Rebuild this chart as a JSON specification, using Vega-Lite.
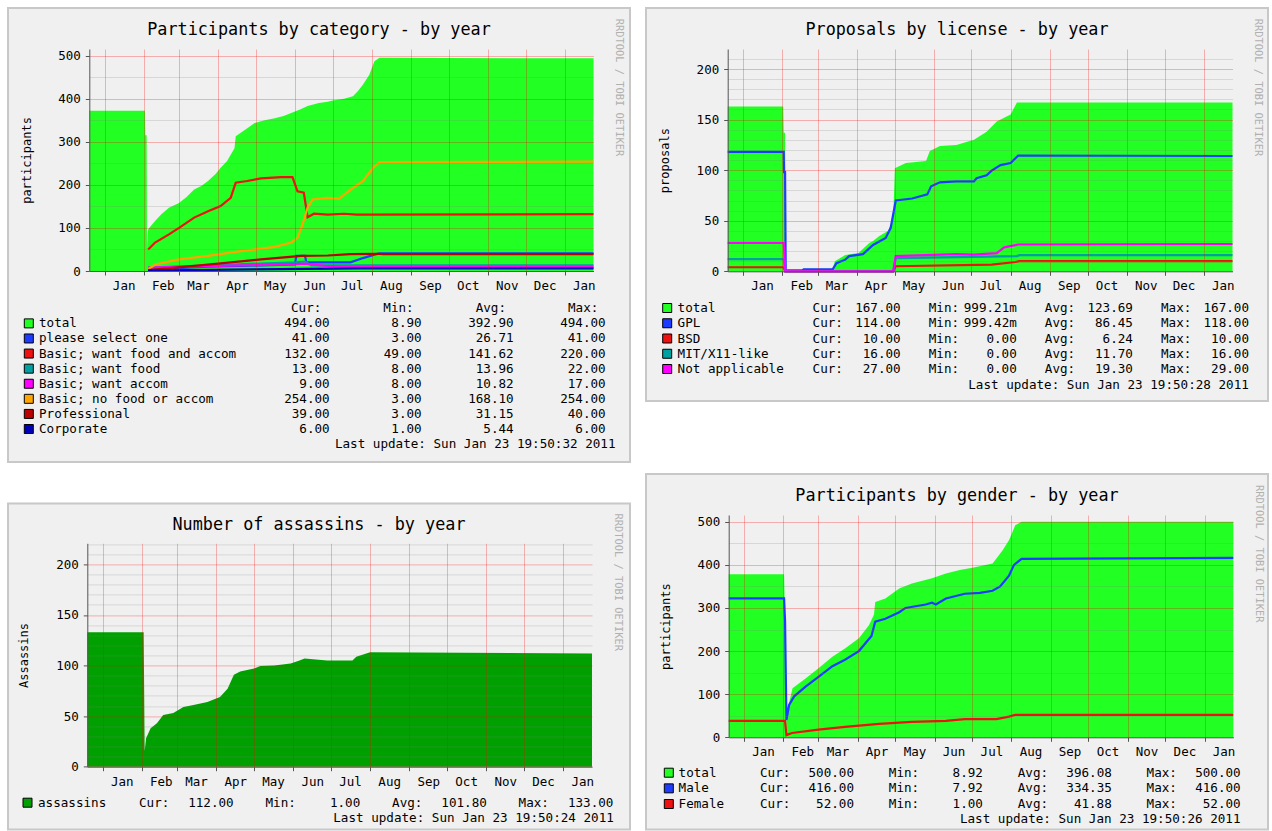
{
"$schema":"https://vega.github.io/schema/vega-lite/v6.json",
"background":"#ffffff",
"padding":{"left":7,"top":7,"right":3,"bottom":0},
"config":{
 "view":{"stroke":null},
 "axis":{"labelFont":"DejaVu Sans Mono","titleFont":"DejaVu Sans Mono","labelFontSize":12.5,"titleFontSize":12,"labelColor":"#000000","titleColor":"#000000","titleFontWeight":"normal","domainColor":"#555555","tickColor":"#555555"},
 "title":{"font":"DejaVu Sans Mono","fontSize":16.8,"fontWeight":"normal","color":"#000000","anchor":"middle"},
 "text":{"font":"DejaVu Sans Mono"}
},
"datasets":{
"p1":[
{"t":"2009-12-19T19:50:00Z","s":"total","v":372},{"t":"2010-02-02T00:00:00Z","s":"total","v":372},{"t":"2010-02-02T07:00:00Z","s":"total","v":315},{"t":"2010-02-03T07:00:00Z","s":"total","v":315},{"t":"2010-02-03T14:00:00Z","s":"total","v":46},{"t":"2010-02-04T12:00:00Z","s":"total","v":97},{"t":"2010-02-10","s":"total","v":116},{"t":"2010-02-15","s":"total","v":132},{"t":"2010-02-21","s":"total","v":147},{"t":"2010-03-01","s":"total","v":158},{"t":"2010-03-07","s":"total","v":172},{"t":"2010-03-13","s":"total","v":189},{"t":"2010-03-19","s":"total","v":198},{"t":"2010-03-24","s":"total","v":209},{"t":"2010-03-30","s":"total","v":225},{"t":"2010-04-03","s":"total","v":240},{"t":"2010-04-08","s":"total","v":255},{"t":"2010-04-11","s":"total","v":270},{"t":"2010-04-14","s":"total","v":285},{"t":"2010-04-15","s":"total","v":313},{"t":"2010-04-19","s":"total","v":321},{"t":"2010-04-25","s":"total","v":333},{"t":"2010-04-30","s":"total","v":344},{"t":"2010-05-08","s":"total","v":350},{"t":"2010-05-16","s":"total","v":355},{"t":"2010-05-23","s":"total","v":360},{"t":"2010-05-29","s":"total","v":367},{"t":"2010-06-05","s":"total","v":375},{"t":"2010-06-11","s":"total","v":383},{"t":"2010-06-20","s":"total","v":390},{"t":"2010-06-27","s":"total","v":393},{"t":"2010-07-01","s":"total","v":396},{"t":"2010-07-10","s":"total","v":400},{"t":"2010-07-17","s":"total","v":406},{"t":"2010-07-21","s":"total","v":418},{"t":"2010-07-25","s":"total","v":433},{"t":"2010-07-30","s":"total","v":456},{"t":"2010-08-03","s":"total","v":487},{"t":"2010-08-07","s":"total","v":495},{"t":"2011-01-23T19:50:00Z","s":"total","v":494},
{"t":"2010-02-04T12:00:00Z","s":"sel","v":3},{"t":"2010-03-24","s":"sel","v":10},{"t":"2010-05-05","s":"sel","v":13},{"t":"2010-06-01","s":"sel","v":15},{"t":"2010-06-02","s":"sel","v":35},{"t":"2010-06-09","s":"sel","v":35},{"t":"2010-06-10","s":"sel","v":20},{"t":"2010-07-15","s":"sel","v":20},{"t":"2010-07-25","s":"sel","v":30},{"t":"2010-08-03","s":"sel","v":38},{"t":"2010-08-07","s":"sel","v":41},{"t":"2011-01-23T19:50:00Z","s":"sel","v":41},
{"t":"2010-02-04T12:00:00Z","s":"fa","v":50},{"t":"2010-02-10","s":"fa","v":66},{"t":"2010-02-21","s":"fa","v":85},{"t":"2010-03-01","s":"fa","v":100},{"t":"2010-03-13","s":"fa","v":124},{"t":"2010-03-24","s":"fa","v":139},{"t":"2010-04-03","s":"fa","v":151},{"t":"2010-04-11","s":"fa","v":170},{"t":"2010-04-15","s":"fa","v":205},{"t":"2010-04-24","s":"fa","v":209},{"t":"2010-05-05","s":"fa","v":215},{"t":"2010-05-21","s":"fa","v":218},{"t":"2010-05-30","s":"fa","v":218},{"t":"2010-06-03","s":"fa","v":185},{"t":"2010-06-08","s":"fa","v":182},{"t":"2010-06-11","s":"fa","v":125},{"t":"2010-06-16","s":"fa","v":133},{"t":"2010-06-27","s":"fa","v":131},{"t":"2010-07-10","s":"fa","v":133},{"t":"2010-07-20","s":"fa","v":131},{"t":"2011-01-23T19:50:00Z","s":"fa","v":132},
{"t":"2010-02-04T12:00:00Z","s":"f","v":8},{"t":"2010-04-11","s":"f","v":15},{"t":"2010-06-01","s":"f","v":20},{"t":"2010-06-09","s":"f","v":22},{"t":"2010-06-14","s":"f","v":13},{"t":"2011-01-23T19:50:00Z","s":"f","v":13},
{"t":"2010-02-04T12:00:00Z","s":"a","v":8},{"t":"2010-04-01","s":"a","v":12},{"t":"2010-06-01","s":"a","v":16},{"t":"2010-06-09","s":"a","v":17},{"t":"2010-06-25","s":"a","v":12},{"t":"2010-07-15","s":"a","v":9},{"t":"2011-01-23T19:50:00Z","s":"a","v":9},
{"t":"2010-02-04T12:00:00Z","s":"no","v":4},{"t":"2010-02-10","s":"no","v":15},{"t":"2010-03-01","s":"no","v":27},{"t":"2010-03-24","s":"no","v":35},{"t":"2010-04-19","s":"no","v":46},{"t":"2010-05-16","s":"no","v":56},{"t":"2010-05-29","s":"no","v":66},{"t":"2010-06-03","s":"no","v":77},{"t":"2010-06-07","s":"no","v":108},{"t":"2010-06-11","s":"no","v":147},{"t":"2010-06-15","s":"no","v":166},{"t":"2010-06-27","s":"no","v":170},{"t":"2010-07-06","s":"no","v":168},{"t":"2010-07-17","s":"no","v":193},{"t":"2010-07-25","s":"no","v":209},{"t":"2010-08-02","s":"no","v":240},{"t":"2010-08-07","s":"no","v":253},{"t":"2011-01-23T19:50:00Z","s":"no","v":254},
{"t":"2010-02-04T12:00:00Z","s":"pro","v":2},{"t":"2010-03-24","s":"pro","v":15},{"t":"2010-05-05","s":"pro","v":27},{"t":"2010-06-06","s":"pro","v":35},{"t":"2010-06-27","s":"pro","v":36},{"t":"2010-07-15","s":"pro","v":39},{"t":"2010-08-05","s":"pro","v":40},{"t":"2010-08-10","s":"pro","v":39},{"t":"2011-01-23T19:50:00Z","s":"pro","v":39},
{"t":"2010-02-04T12:00:00Z","s":"corp","v":1},{"t":"2010-04-11","s":"corp","v":3},{"t":"2010-05-01","s":"corp","v":4},{"t":"2010-07-20","s":"corp","v":6},{"t":"2011-01-23T19:50:00Z","s":"corp","v":6}
],
"p2":[
{"t":"2009-12-19T19:50:00Z","s":"total","v":163},{"t":"2010-02-01T20:00:00Z","s":"total","v":163},{"t":"2010-02-02T05:00:00Z","s":"total","v":137},{"t":"2010-02-03T07:00:00Z","s":"total","v":137},{"t":"2010-02-03T19:00:00Z","s":"total","v":1},{"t":"2010-02-17","s":"total","v":1},{"t":"2010-02-18","s":"total","v":2.5},{"t":"2010-03-13","s":"total","v":2.5},{"t":"2010-03-14T17:00:00Z","s":"total","v":10},{"t":"2010-03-23","s":"total","v":16},{"t":"2010-04-02T12:00:00Z","s":"total","v":18},{"t":"2010-04-11","s":"total","v":28},{"t":"2010-04-14","s":"total","v":30},{"t":"2010-04-19","s":"total","v":35},{"t":"2010-04-26","s":"total","v":40},{"t":"2010-04-30","s":"total","v":53},{"t":"2010-05-01T07:00:00Z","s":"total","v":102},{"t":"2010-05-10","s":"total","v":107},{"t":"2010-05-26","s":"total","v":109},{"t":"2010-05-29","s":"total","v":119},{"t":"2010-06-06","s":"total","v":124},{"t":"2010-06-19","s":"total","v":125},{"t":"2010-07-03","s":"total","v":130},{"t":"2010-07-13","s":"total","v":138},{"t":"2010-07-21","s":"total","v":148},{"t":"2010-08-01","s":"total","v":155},{"t":"2010-08-06","s":"total","v":167},{"t":"2011-01-23T19:50:00Z","s":"total","v":167},
{"t":"2009-12-19T19:50:00Z","s":"GPL","v":118},{"t":"2010-02-02T05:00:00Z","s":"GPL","v":118},{"t":"2010-02-02T12:00:00Z","s":"GPL","v":98},{"t":"2010-02-03T07:00:00Z","s":"GPL","v":98},{"t":"2010-02-03T19:00:00Z","s":"GPL","v":1},{"t":"2010-02-17","s":"GPL","v":1},{"t":"2010-02-18","s":"GPL","v":2},{"t":"2010-03-13","s":"GPL","v":2},{"t":"2010-03-16","s":"GPL","v":8},{"t":"2010-03-23","s":"GPL","v":11.5},{"t":"2010-03-26","s":"GPL","v":15},{"t":"2010-04-06","s":"GPL","v":17},{"t":"2010-04-14","s":"GPL","v":26},{"t":"2010-04-24","s":"GPL","v":33},{"t":"2010-04-28","s":"GPL","v":43},{"t":"2010-05-02","s":"GPL","v":70},{"t":"2010-05-15","s":"GPL","v":72},{"t":"2010-05-27","s":"GPL","v":76},{"t":"2010-05-30","s":"GPL","v":84},{"t":"2010-06-06","s":"GPL","v":88},{"t":"2010-06-19","s":"GPL","v":89},{"t":"2010-07-03","s":"GPL","v":89},{"t":"2010-07-05","s":"GPL","v":92},{"t":"2010-07-13","s":"GPL","v":95},{"t":"2010-07-17","s":"GPL","v":99.5},{"t":"2010-07-24","s":"GPL","v":105},{"t":"2010-08-01","s":"GPL","v":107},{"t":"2010-08-07","s":"GPL","v":114.5},{"t":"2011-01-23T19:50:00Z","s":"GPL","v":114},
{"t":"2009-12-19T19:50:00Z","s":"BSD","v":4},{"t":"2010-02-02T05:00:00Z","s":"BSD","v":4},{"t":"2010-02-03T12:00:00Z","s":"BSD","v":0},{"t":"2010-04-30","s":"BSD","v":0},{"t":"2010-05-02","s":"BSD","v":5},{"t":"2010-07-17","s":"BSD","v":6.6},{"t":"2010-08-05","s":"BSD","v":9.2},{"t":"2010-08-08","s":"BSD","v":10},{"t":"2011-01-23T19:50:00Z","s":"BSD","v":10},
{"t":"2009-12-19T19:50:00Z","s":"MIT","v":12},{"t":"2010-02-02T05:00:00Z","s":"MIT","v":12},{"t":"2010-02-03T12:00:00Z","s":"MIT","v":0},{"t":"2010-04-30","s":"MIT","v":0},{"t":"2010-05-02","s":"MIT","v":13},{"t":"2010-08-06","s":"MIT","v":15},{"t":"2010-08-08","s":"MIT","v":16},{"t":"2011-01-23T19:50:00Z","s":"MIT","v":16},
{"t":"2009-12-19T19:50:00Z","s":"NA","v":28},{"t":"2010-02-02T05:00:00Z","s":"NA","v":28},{"t":"2010-02-03T12:00:00Z","s":"NA","v":0},{"t":"2010-04-30","s":"NA","v":0},{"t":"2010-05-02","s":"NA","v":15},{"t":"2010-06-19","s":"NA","v":17},{"t":"2010-07-03","s":"NA","v":16.5},{"t":"2010-07-21","s":"NA","v":18},{"t":"2010-07-27","s":"NA","v":23.7},{"t":"2010-08-07","s":"NA","v":26.5},{"t":"2011-01-23T19:50:00Z","s":"NA","v":27}
],
"p3":[
{"t":"2009-12-19T19:50:00Z","s":"ass","v":133},{"t":"2010-02-02T12:00:00Z","s":"ass","v":133},{"t":"2010-02-03T07:00:00Z","s":"ass","v":15.5},{"t":"2010-02-04T10:00:00Z","s":"ass","v":28},{"t":"2010-02-08","s":"ass","v":38},{"t":"2010-02-13","s":"ass","v":43},{"t":"2010-02-18","s":"ass","v":51},{"t":"2010-02-26","s":"ass","v":53},{"t":"2010-03-06","s":"ass","v":59},{"t":"2010-03-14","s":"ass","v":61},{"t":"2010-03-25","s":"ass","v":64},{"t":"2010-04-04","s":"ass","v":69},{"t":"2010-04-10","s":"ass","v":77},{"t":"2010-04-15","s":"ass","v":91},{"t":"2010-04-20","s":"ass","v":94},{"t":"2010-05-01","s":"ass","v":97},{"t":"2010-05-06","s":"ass","v":99.5},{"t":"2010-05-17","s":"ass","v":100},{"t":"2010-05-30","s":"ass","v":102},{"t":"2010-06-06","s":"ass","v":105},{"t":"2010-06-10","s":"ass","v":107},{"t":"2010-06-28","s":"ass","v":105},{"t":"2010-07-18","s":"ass","v":105},{"t":"2010-07-21","s":"ass","v":108.7},{"t":"2010-08-01","s":"ass","v":113},{"t":"2011-01-23T19:50:00Z","s":"ass","v":112}
],
"p4":[
{"t":"2009-12-19T19:50:00Z","s":"total","v":378},{"t":"2010-02-01T17:00:00Z","s":"total","v":378},{"t":"2010-02-02T07:00:00Z","s":"total","v":300},{"t":"2010-02-03T05:00:00Z","s":"total","v":9},{"t":"2010-02-03T14:00:00Z","s":"total","v":60},{"t":"2010-02-05T17:00:00Z","s":"total","v":80},{"t":"2010-02-08T10:00:00Z","s":"total","v":114},{"t":"2010-02-19","s":"total","v":137},{"t":"2010-03-01","s":"total","v":160},{"t":"2010-03-12","s":"total","v":187},{"t":"2010-03-22","s":"total","v":206},{"t":"2010-04-02","s":"total","v":230},{"t":"2010-04-10","s":"total","v":260},{"t":"2010-04-14","s":"total","v":285},{"t":"2010-04-15","s":"total","v":314},{"t":"2010-04-23","s":"total","v":322},{"t":"2010-05-04","s":"total","v":345},{"t":"2010-05-14","s":"total","v":357},{"t":"2010-05-30","s":"total","v":369},{"t":"2010-06-10","s":"total","v":380},{"t":"2010-06-21","s":"total","v":388},{"t":"2010-07-01","s":"total","v":393},{"t":"2010-07-17","s":"total","v":403},{"t":"2010-07-25","s":"total","v":434},{"t":"2010-07-30","s":"total","v":457},{"t":"2010-08-04","s":"total","v":492},{"t":"2010-08-09","s":"total","v":500},{"t":"2011-01-23T19:50:00Z","s":"total","v":500},
{"t":"2009-12-19T19:50:00Z","s":"Male","v":322},{"t":"2010-02-01T17:00:00Z","s":"Male","v":322},{"t":"2010-02-02T12:00:00Z","s":"Male","v":270},{"t":"2010-02-03T14:00:00Z","s":"Male","v":40},{"t":"2010-02-05T17:00:00Z","s":"Male","v":75},{"t":"2010-02-09T17:00:00Z","s":"Male","v":95},{"t":"2010-02-19","s":"Male","v":118},{"t":"2010-03-01","s":"Male","v":140},{"t":"2010-03-12","s":"Male","v":165},{"t":"2010-03-22","s":"Male","v":180},{"t":"2010-04-02","s":"Male","v":200},{"t":"2010-04-12","s":"Male","v":235},{"t":"2010-04-15","s":"Male","v":268},{"t":"2010-04-23","s":"Male","v":275},{"t":"2010-05-04","s":"Male","v":290},{"t":"2010-05-09","s":"Male","v":300},{"t":"2010-05-25","s":"Male","v":308},{"t":"2010-05-30","s":"Male","v":312},{"t":"2010-06-02","s":"Male","v":308},{"t":"2010-06-10","s":"Male","v":322},{"t":"2010-06-25","s":"Male","v":333},{"t":"2010-07-07","s":"Male","v":335},{"t":"2010-07-17","s":"Male","v":340},{"t":"2010-07-23","s":"Male","v":350},{"t":"2010-07-30","s":"Male","v":375},{"t":"2010-08-03","s":"Male","v":400},{"t":"2010-08-09","s":"Male","v":414},{"t":"2011-01-23T19:50:00Z","s":"Male","v":416},
{"t":"2009-12-19T19:50:00Z","s":"Female","v":38},{"t":"2010-02-02T12:00:00Z","s":"Female","v":38},{"t":"2010-02-03T14:00:00Z","s":"Female","v":5},{"t":"2010-02-08","s":"Female","v":10},{"t":"2010-03-01","s":"Female","v":18},{"t":"2010-03-22","s":"Female","v":24},{"t":"2010-04-18","s":"Female","v":31},{"t":"2010-05-14","s":"Female","v":36},{"t":"2010-06-10","s":"Female","v":38},{"t":"2010-06-25","s":"Female","v":42},{"t":"2010-07-20","s":"Female","v":42},{"t":"2010-07-30","s":"Female","v":48},{"t":"2010-08-04","s":"Female","v":52},{"t":"2011-01-23T19:50:00Z","s":"Female","v":52}
],
"t1":[
{"r":"total","c":"label","txt":"total"},{"r":"total","c":"Cur:","txt":"494.00"},{"r":"total","c":"Min:","txt":"8.90"},{"r":"total","c":"Avg:","txt":"392.90"},{"r":"total","c":"Max:","txt":"494.00"},
{"r":"sel","c":"label","txt":"please select one"},{"r":"sel","c":"Cur:","txt":"41.00"},{"r":"sel","c":"Min:","txt":"3.00"},{"r":"sel","c":"Avg:","txt":"26.71"},{"r":"sel","c":"Max:","txt":"41.00"},
{"r":"fa","c":"label","txt":"Basic; want food and accom"},{"r":"fa","c":"Cur:","txt":"132.00"},{"r":"fa","c":"Min:","txt":"49.00"},{"r":"fa","c":"Avg:","txt":"141.62"},{"r":"fa","c":"Max:","txt":"220.00"},
{"r":"f","c":"label","txt":"Basic; want food"},{"r":"f","c":"Cur:","txt":"13.00"},{"r":"f","c":"Min:","txt":"8.00"},{"r":"f","c":"Avg:","txt":"13.96"},{"r":"f","c":"Max:","txt":"22.00"},
{"r":"a","c":"label","txt":"Basic; want accom"},{"r":"a","c":"Cur:","txt":"9.00"},{"r":"a","c":"Min:","txt":"8.00"},{"r":"a","c":"Avg:","txt":"10.82"},{"r":"a","c":"Max:","txt":"17.00"},
{"r":"no","c":"label","txt":"Basic; no food or accom"},{"r":"no","c":"Cur:","txt":"254.00"},{"r":"no","c":"Min:","txt":"3.00"},{"r":"no","c":"Avg:","txt":"168.10"},{"r":"no","c":"Max:","txt":"254.00"},
{"r":"pro","c":"label","txt":"Professional"},{"r":"pro","c":"Cur:","txt":"39.00"},{"r":"pro","c":"Min:","txt":"3.00"},{"r":"pro","c":"Avg:","txt":"31.15"},{"r":"pro","c":"Max:","txt":"40.00"},
{"r":"corp","c":"label","txt":"Corporate"},{"r":"corp","c":"Cur:","txt":"6.00"},{"r":"corp","c":"Min:","txt":"1.00"},{"r":"corp","c":"Avg:","txt":"5.44"},{"r":"corp","c":"Max:","txt":"6.00"}
],
"t2":[
{"r":"total","c":"label","txt":"total"},{"r":"total","c":"Cur:","txt":"167.00"},{"r":"total","c":"Min:","txt":"999.21m"},{"r":"total","c":"Avg:","txt":"123.69"},{"r":"total","c":"Max:","txt":"167.00"},
{"r":"GPL","c":"label","txt":"GPL"},{"r":"GPL","c":"Cur:","txt":"114.00"},{"r":"GPL","c":"Min:","txt":"999.42m"},{"r":"GPL","c":"Avg:","txt":"86.45"},{"r":"GPL","c":"Max:","txt":"118.00"},
{"r":"BSD","c":"label","txt":"BSD"},{"r":"BSD","c":"Cur:","txt":"10.00"},{"r":"BSD","c":"Min:","txt":"0.00"},{"r":"BSD","c":"Avg:","txt":"6.24"},{"r":"BSD","c":"Max:","txt":"10.00"},
{"r":"MIT","c":"label","txt":"MIT/X11-like"},{"r":"MIT","c":"Cur:","txt":"16.00"},{"r":"MIT","c":"Min:","txt":"0.00"},{"r":"MIT","c":"Avg:","txt":"11.70"},{"r":"MIT","c":"Max:","txt":"16.00"},
{"r":"NA","c":"label","txt":"Not applicable"},{"r":"NA","c":"Cur:","txt":"27.00"},{"r":"NA","c":"Min:","txt":"0.00"},{"r":"NA","c":"Avg:","txt":"19.30"},{"r":"NA","c":"Max:","txt":"29.00"}
],
"t3":[
{"r":"ass","c":"label","txt":"assassins"},{"r":"ass","c":"Cur:","txt":"112.00"},{"r":"ass","c":"Min:","txt":"1.00"},{"r":"ass","c":"Avg:","txt":"101.80"},{"r":"ass","c":"Max:","txt":"133.00"}
],
"t4":[
{"r":"total","c":"label","txt":"total"},{"r":"total","c":"Cur:","txt":"500.00"},{"r":"total","c":"Min:","txt":"8.92"},{"r":"total","c":"Avg:","txt":"396.08"},{"r":"total","c":"Max:","txt":"500.00"},
{"r":"Male","c":"label","txt":"Male"},{"r":"Male","c":"Cur:","txt":"416.00"},{"r":"Male","c":"Min:","txt":"7.92"},{"r":"Male","c":"Avg:","txt":"334.35"},{"r":"Male","c":"Max:","txt":"416.00"},
{"r":"Female","c":"label","txt":"Female"},{"r":"Female","c":"Cur:","txt":"52.00"},{"r":"Female","c":"Min:","txt":"1.00"},{"r":"Female","c":"Avg:","txt":"41.88"},{"r":"Female","c":"Max:","txt":"52.00"}
]
},
"resolve":{"scale":{"fill":"independent"}},
"hconcat":[
{"spacing":39.4,"resolve":{"scale":{"fill":"independent"}},"vconcat":[
{
 "width":622,"height":454,
 "view":{"fill":"#f0f0f0","stroke":"#c8c8c8","strokeWidth":2},
 "title":{"text":"Participants by category - by year","offset":-44,"baseline":"alphabetic"},
 "layer":[
  {
   "data":{"name":"p1"},
   "encoding":{
    "x":{"field":"t","type":"temporal","scale":{"type":"utc","domain":[{"year":2009,"month":12,"date":19,"hours":19,"minutes":50,"utc":true},{"year":2011,"month":1,"date":23,"hours":19,"minutes":50,"utc":true}],"range":[81.3,585.5]},"axis":null},
    "y":{"field":"v","type":"quantitative","scale":{"domain":[0,515.6],"range":[263,41],"nice":false,"zero":false},"axis":null}
   },
   "layer":[
    {"data":{"values":[{}]},"mark":{"type":"rect","color":"#ffffff"},"encoding":{
      "x":{"datum":{"year":2009,"month":12,"date":19,"hours":19,"minutes":50,"utc":true},"type":"temporal","axis":{"orient":"top","offset":0,"grid":true,"labels":false,"ticks":false,"domain":false,"title":null,"values":[{"year":2010,"month":1,"date":1,"utc":true},{"year":2010,"month":2,"date":1,"utc":true},{"year":2010,"month":3,"date":1,"utc":true},{"year":2010,"month":4,"date":1,"utc":true},{"year":2010,"month":5,"date":1,"utc":true},{"year":2010,"month":6,"date":1,"utc":true},{"year":2010,"month":7,"date":1,"utc":true},{"year":2010,"month":8,"date":1,"utc":true},{"year":2010,"month":9,"date":1,"utc":true},{"year":2010,"month":10,"date":1,"utc":true},{"year":2010,"month":11,"date":1,"utc":true},{"year":2010,"month":12,"date":1,"utc":true},{"year":2011,"month":1,"date":1,"utc":true}],"gridColor":"#ff0000","gridOpacity":0.28,"zindex":1}},
      "x2":{"datum":{"year":2011,"month":1,"date":23,"hours":19,"minutes":50,"utc":true}},
      "y":{"datum":0,"type":"quantitative","axis":{"orient":"left","offset":0,"grid":true,"labels":false,"ticks":false,"domain":false,"title":null,"values":[0,50,100,150,200,250,300,350,400,450,500],"gridColor":{"condition":{"test":"datum.value % 100 === 0","value":"#ff0000"},"value":"#808080"},"gridOpacity":{"condition":{"test":"datum.value % 100 === 0","value":0.28},"value":0.22},"zindex":1}},
      "y2":{"datum":515.6}}},
    {"transform":[{"filter":"datum.s === 'total'"}],"mark":{"type":"area","color":"#22ff22","opacity":1},"encoding":{
      "x":{"field":"t","type":"temporal","axis":{"orient":"bottom","offset":-191,"grid":false,"values":[{"year":2010,"month":1,"date":1,"utc":true},{"year":2010,"month":2,"date":1,"utc":true},{"year":2010,"month":3,"date":1,"utc":true},{"year":2010,"month":4,"date":1,"utc":true},{"year":2010,"month":5,"date":1,"utc":true},{"year":2010,"month":6,"date":1,"utc":true},{"year":2010,"month":7,"date":1,"utc":true},{"year":2010,"month":8,"date":1,"utc":true},{"year":2010,"month":9,"date":1,"utc":true},{"year":2010,"month":10,"date":1,"utc":true},{"year":2010,"month":11,"date":1,"utc":true},{"year":2010,"month":12,"date":1,"utc":true},{"year":2011,"month":1,"date":1,"utc":true}],"format":"%b","labelOffset":19,"labelFlush":false,"labelOverlap":false,"labelBound":false,"labelBaseline":"middle","labelPadding":10.5,"tickSize":4,"zindex":1,"title":"Last update: Sun Jan 23 19:50:32 2011","titleX":607,"titleY":172.7,"titleAlign":"right","titleBaseline":"middle","titleAngle":0,"titleFontSize":12.6}},
      "y":{"field":"v","type":"quantitative","axis":{"orient":"left","offset":-81.3,"grid":false,"values":[0,100,200,300,400,500],"tickSize":4,"labelPadding":5,"zindex":1,"title":"participants","titleX":-63,"titleBaseline":"middle","titleAngle":-90}}}},
    {"transform":[{"filter":"datum.s === 'sel'"}],"mark":{"type":"line","color":"#1e3cff","strokeWidth":2.2}},
    {"transform":[{"filter":"datum.s === 'fa'"}],"mark":{"type":"line","color":"#ee1111","strokeWidth":2.2}},
    {"transform":[{"filter":"datum.s === 'f'"}],"mark":{"type":"line","color":"#00a0a0","strokeWidth":2.2}},
    {"transform":[{"filter":"datum.s === 'a'"}],"mark":{"type":"line","color":"#ff00ff","strokeWidth":2.2}},
    {"transform":[{"filter":"datum.s === 'no'"}],"mark":{"type":"line","color":"#ffa500","strokeWidth":2.2}},
    {"transform":[{"filter":"datum.s === 'pro'"}],"mark":{"type":"line","color":"#bb0000","strokeWidth":2.2}},
    {"transform":[{"filter":"datum.s === 'corp'"}],"mark":{"type":"line","color":"#0000bb","strokeWidth":2.2}},
    {"data":{"values":[{}]},"mark":{"type":"point","shape":"triangle-right","filled":true,"size":36,"color":"#a02828","opacity":1},"encoding":{"x":{"datum":{"year":2011,"month":1,"date":28,"utc":true},"type":"temporal","axis":null},"y":{"datum":0,"type":"quantitative","axis":null}}},
    {"data":{"values":[{}]},"mark":{"type":"point","shape":"triangle-up","filled":true,"size":36,"color":"#a02828","opacity":1},"encoding":{"x":{"datum":{"year":2009,"month":12,"date":19,"hours":19,"minutes":50,"utc":true},"type":"temporal","axis":null},"y":{"datum":526,"type":"quantitative","axis":null}}}
   ],
   "resolve":{"axis":{"x":"independent","y":"independent"}}
  },
  {
   "layer":[
    {"data":{"values":[{"k":"sw","r":"total"},{"k":"sw","r":"sel"},{"k":"sw","r":"fa"},{"k":"sw","r":"f"},{"k":"sw","r":"a"},{"k":"sw","r":"no"},{"k":"sw","r":"pro"},{"k":"sw","r":"corp"}]},
     "mark":{"type":"point","shape":"square","filled":true,"size":81,"stroke":"#000000","strokeWidth":1,"opacity":1},
     "encoding":{
      "x":{"field":"k","type":"nominal","scale":{"type":"point","domain":["sw"],"range":[20.8,20.8],"padding":0},"axis":null},
      "y":{"field":"r","type":"nominal","scale":{"type":"point","domain":["hdr","total","sel","fa","f","a","no","pro","corp"],"range":[300.3,421],"padding":0},"axis":null},
      "fill":{"field":"r","type":"nominal","scale":{"domain":["total","sel","fa","f","a","no","pro","corp"],"range":["#22ff22","#1e3cff","#ee1111","#00a0a0","#ff00ff","#ffa500","#bb0000","#0000bb"]},"legend":null}
     }},
    {"data":{"name":"t1"},"transform":[{"filter":"datum.c === 'label'"}],
     "mark":{"type":"text","align":"left","baseline":"middle","fontSize":12.6,"font":"DejaVu Sans Mono","color":"#000000"},
     "encoding":{
      "x":{"field":"c","type":"nominal","scale":{"type":"point","domain":["label"],"range":[31,31],"padding":0},"axis":null},
      "y":{"field":"r","type":"nominal","scale":{"type":"point","domain":["hdr","total","sel","fa","f","a","no","pro","corp"],"range":[300.3,421],"padding":0},"axis":null},
      "text":{"field":"txt"}
     }},
    {"data":{"name":"t1"},"transform":[{"filter":"datum.c !== 'label'"}],
     "mark":{"type":"text","align":"right","baseline":"middle","fontSize":12.6,"font":"DejaVu Sans Mono","color":"#000000"},
     "encoding":{
      "x":{"field":"c","type":"nominal","scale":{"type":"point","domain":["Cur:","Min:","Avg:","Max:"],"range":[321.7,597.7],"padding":0},"axis":null},
      "y":{"field":"r","type":"nominal","scale":{"type":"point","domain":["hdr","total","sel","fa","f","a","no","pro","corp"],"range":[300.3,421],"padding":0},
        "axis":{"orient":"right","offset":-12,"labels":false,"ticks":false,"domain":false,"grid":false,"title":"RRDTOOL / TOBI OETIKER","titleAngle":90,"titleX":0,"titleY":79,"titleAlign":"center","titleBaseline":"middle","titleFontSize":10.4,"titleColor":"#b0b0b0"}},
      "text":{"field":"txt"}
     }},
    {"data":{"values":[{"r":"hdr","c":"Cur:"},{"r":"hdr","c":"Min:"},{"r":"hdr","c":"Avg:"},{"r":"hdr","c":"Max:"}]},
     "mark":{"type":"text","align":"left","baseline":"middle","fontSize":12.6,"font":"DejaVu Sans Mono","color":"#000000"},
     "encoding":{
      "x":{"field":"c","type":"nominal","scale":{"type":"point","domain":["Cur:","Min:","Avg:","Max:"],"range":[283,560],"padding":0},"axis":null},
      "y":{"field":"r","type":"nominal","scale":{"type":"point","domain":["hdr","total","sel","fa","f","a","no","pro","corp"],"range":[300.3,421],"padding":0},"axis":null},
      "text":{"field":"c"}
     }}
   ],
   "resolve":{"scale":{"x":"independent"},"axis":{"x":"independent","y":"independent"}}
  }
 ],
 "resolve":{"scale":{"x":"independent","y":"independent"},"axis":{"x":"independent","y":"independent"}}
},
{
 "width":622,"height":326,
 "view":{"fill":"#f0f0f0","stroke":"#c8c8c8","strokeWidth":2},
 "title":{"text":"Number of assassins - by year","offset":-43.6,"baseline":"alphabetic"},
 "layer":[
  {
   "data":{"name":"p3"},
   "encoding":{
    "x":{"field":"t","type":"temporal","scale":{"type":"utc","domain":[{"year":2009,"month":12,"date":19,"hours":19,"minutes":50,"utc":true},{"year":2011,"month":1,"date":23,"hours":19,"minutes":50,"utc":true}],"range":[79.3,584]},"axis":null},
    "y":{"field":"v","type":"quantitative","scale":{"domain":[0,220.8],"range":[263.3,39.9],"nice":false,"zero":false},"axis":null}
   },
   "layer":[
    {"data":{"values":[{}]},"mark":{"type":"rect","color":"#ffffff"},"encoding":{
      "x":{"datum":{"year":2009,"month":12,"date":19,"hours":19,"minutes":50,"utc":true},"type":"temporal","axis":{"orient":"top","offset":0,"grid":true,"labels":false,"ticks":false,"domain":false,"title":null,"values":[{"year":2010,"month":1,"date":1,"utc":true},{"year":2010,"month":2,"date":1,"utc":true},{"year":2010,"month":3,"date":1,"utc":true},{"year":2010,"month":4,"date":1,"utc":true},{"year":2010,"month":5,"date":1,"utc":true},{"year":2010,"month":6,"date":1,"utc":true},{"year":2010,"month":7,"date":1,"utc":true},{"year":2010,"month":8,"date":1,"utc":true},{"year":2010,"month":9,"date":1,"utc":true},{"year":2010,"month":10,"date":1,"utc":true},{"year":2010,"month":11,"date":1,"utc":true},{"year":2010,"month":12,"date":1,"utc":true},{"year":2011,"month":1,"date":1,"utc":true}],"gridColor":"#ff0000","gridOpacity":0.28,"zindex":1}},
      "x2":{"datum":{"year":2011,"month":1,"date":23,"hours":19,"minutes":50,"utc":true}},
      "y":{"datum":0,"type":"quantitative","axis":{"orient":"left","offset":0,"grid":true,"labels":false,"ticks":false,"domain":false,"title":null,"values":[0,10,20,30,40,50,60,70,80,90,100,110,120,130,140,150,160,170,180,190,200,210,220],"gridColor":{"condition":{"test":"datum.value % 50 === 0","value":"#ff0000"},"value":"#808080"},"gridOpacity":{"condition":{"test":"datum.value % 50 === 0","value":0.28},"value":0.22},"zindex":1}},
      "y2":{"datum":220.8}}},
    {"transform":[{"filter":"datum.s === 'ass'"}],"mark":{"type":"area","color":"#00a000","opacity":1},"encoding":{
      "x":{"field":"t","type":"temporal","axis":{"orient":"bottom","offset":-62.7,"grid":false,"values":[{"year":2010,"month":1,"date":1,"utc":true},{"year":2010,"month":2,"date":1,"utc":true},{"year":2010,"month":3,"date":1,"utc":true},{"year":2010,"month":4,"date":1,"utc":true},{"year":2010,"month":5,"date":1,"utc":true},{"year":2010,"month":6,"date":1,"utc":true},{"year":2010,"month":7,"date":1,"utc":true},{"year":2010,"month":8,"date":1,"utc":true},{"year":2010,"month":9,"date":1,"utc":true},{"year":2010,"month":10,"date":1,"utc":true},{"year":2010,"month":11,"date":1,"utc":true},{"year":2010,"month":12,"date":1,"utc":true},{"year":2011,"month":1,"date":1,"utc":true}],"format":"%b","labelOffset":19,"labelFlush":false,"labelOverlap":false,"labelBound":false,"labelBaseline":"middle","labelPadding":10.5,"tickSize":4,"zindex":1,"title":"Last update: Sun Jan 23 19:50:24 2011","titleX":605.3,"titleY":50.6,"titleAlign":"right","titleBaseline":"middle","titleAngle":0,"titleFontSize":12.6}},
      "y":{"field":"v","type":"quantitative","axis":{"orient":"left","offset":-79.3,"grid":false,"values":[0,50,100,150,200],"tickSize":4,"labelPadding":5,"zindex":1,"title":"Assassins","titleX":-64.3,"titleBaseline":"middle","titleAngle":-90}}}},
    {"data":{"values":[{}]},"mark":{"type":"point","shape":"triangle-right","filled":true,"size":36,"color":"#a02828","opacity":1},"encoding":{"x":{"datum":{"year":2011,"month":1,"date":28,"utc":true},"type":"temporal","axis":null},"y":{"datum":0,"type":"quantitative","axis":null}}},
    {"data":{"values":[{}]},"mark":{"type":"point","shape":"triangle-up","filled":true,"size":36,"color":"#a02828","opacity":1},"encoding":{"x":{"datum":{"year":2009,"month":12,"date":19,"hours":19,"minutes":50,"utc":true},"type":"temporal","axis":null},"y":{"datum":225,"type":"quantitative","axis":null}}}
   ],
   "resolve":{"axis":{"x":"independent","y":"independent"}}
  },
  {
   "layer":[
    {"data":{"values":[{"k":"sw","r":"ass"}]},
     "mark":{"type":"point","shape":"square","filled":true,"size":81,"stroke":"#000000","strokeWidth":1,"opacity":1},
     "encoding":{
      "x":{"field":"k","type":"nominal","scale":{"type":"point","domain":["sw"],"range":[19.5,19.5],"padding":0},"axis":null},
      "y":{"field":"r","type":"nominal","scale":{"type":"point","domain":["ass"],"range":[299.3,299.3],"padding":0},"axis":null},
      "fill":{"field":"r","type":"nominal","scale":{"domain":["ass"],"range":["#00a000"]},"legend":null}
     }},
    {"data":{"name":"t3"},"transform":[{"filter":"datum.c === 'label'"}],
     "mark":{"type":"text","align":"left","baseline":"middle","fontSize":12.6,"font":"DejaVu Sans Mono","color":"#000000"},
     "encoding":{
      "x":{"field":"c","type":"nominal","scale":{"type":"point","domain":["label"],"range":[30,30],"padding":0},"axis":null},
      "y":{"field":"r","type":"nominal","scale":{"type":"point","domain":["ass"],"range":[299.3,299.3],"padding":0},"axis":null},
      "text":{"field":"txt"}
     }},
    {"data":{"name":"t3"},"transform":[{"filter":"datum.c !== 'label'"}],
     "mark":{"type":"text","align":"right","baseline":"middle","fontSize":12.6,"font":"DejaVu Sans Mono","color":"#000000"},
     "encoding":{
      "x":{"field":"c","type":"nominal","scale":{"type":"point","domain":["Cur:","Min:","Avg:","Max:"],"range":[225.7,605.4],"padding":0},"axis":null},
      "y":{"field":"r","type":"nominal","scale":{"type":"point","domain":["ass"],"range":[299.3,299.3],"padding":0},
        "axis":{"orient":"right","offset":-12.3,"labels":false,"ticks":false,"domain":false,"grid":false,"title":"RRDTOOL / TOBI OETIKER","titleAngle":90,"titleX":0,"titleY":78.3,"titleAlign":"center","titleBaseline":"middle","titleFontSize":10.4,"titleColor":"#b0b0b0"}},
      "text":{"field":"txt"}
     }},
    {"data":{"name":"t3"},"transform":[{"filter":"datum.c !== 'label'"}],
     "mark":{"type":"text","align":"left","baseline":"middle","fontSize":12.6,"font":"DejaVu Sans Mono","color":"#000000"},
     "encoding":{
      "x":{"field":"c","type":"nominal","scale":{"type":"point","domain":["Cur:","Min:","Avg:","Max:"],"range":[131,510.6],"padding":0},"axis":null},
      "y":{"field":"r","type":"nominal","scale":{"type":"point","domain":["ass"],"range":[299.3,299.3],"padding":0},"axis":null},
      "text":{"field":"c"}
     }}
   ],
   "resolve":{"scale":{"x":"independent"},"axis":{"x":"independent","y":"independent"}}
  }
 ],
 "resolve":{"scale":{"x":"independent","y":"independent"},"axis":{"x":"independent","y":"independent"}}
}
]},
{"spacing":71,"resolve":{"scale":{"fill":"independent"}},"vconcat":[
{
 "width":622,"height":393,
 "view":{"fill":"#f0f0f0","stroke":"#c8c8c8","strokeWidth":2},
 "title":{"text":"Proposals by license - by year","offset":-44,"baseline":"alphabetic"},
 "layer":[
  {
   "data":{"name":"p2"},
   "encoding":{
    "x":{"field":"t","type":"temporal","scale":{"type":"utc","domain":[{"year":2009,"month":12,"date":19,"hours":19,"minutes":50,"utc":true},{"year":2011,"month":1,"date":23,"hours":19,"minutes":50,"utc":true}],"range":[81.7,586.5]},"axis":null},
    "y":{"field":"v","type":"quantitative","scale":{"domain":[0,219.8],"range":[263.3,41],"nice":false,"zero":false},"axis":null}
   },
   "layer":[
    {"data":{"values":[{}]},"mark":{"type":"rect","color":"#ffffff"},"encoding":{
      "x":{"datum":{"year":2009,"month":12,"date":19,"hours":19,"minutes":50,"utc":true},"type":"temporal","axis":{"orient":"top","offset":0,"grid":true,"labels":false,"ticks":false,"domain":false,"title":null,"values":[{"year":2010,"month":1,"date":1,"utc":true},{"year":2010,"month":2,"date":1,"utc":true},{"year":2010,"month":3,"date":1,"utc":true},{"year":2010,"month":4,"date":1,"utc":true},{"year":2010,"month":5,"date":1,"utc":true},{"year":2010,"month":6,"date":1,"utc":true},{"year":2010,"month":7,"date":1,"utc":true},{"year":2010,"month":8,"date":1,"utc":true},{"year":2010,"month":9,"date":1,"utc":true},{"year":2010,"month":10,"date":1,"utc":true},{"year":2010,"month":11,"date":1,"utc":true},{"year":2010,"month":12,"date":1,"utc":true},{"year":2011,"month":1,"date":1,"utc":true}],"gridColor":"#ff0000","gridOpacity":0.28,"zindex":1}},
      "x2":{"datum":{"year":2011,"month":1,"date":23,"hours":19,"minutes":50,"utc":true}},
      "y":{"datum":0,"type":"quantitative","axis":{"orient":"left","offset":0,"grid":true,"labels":false,"ticks":false,"domain":false,"title":null,"values":[0,10,20,30,40,50,60,70,80,90,100,110,120,130,140,150,160,170,180,190,200,210,220],"gridColor":{"condition":{"test":"datum.value % 50 === 0","value":"#ff0000"},"value":"#808080"},"gridOpacity":{"condition":{"test":"datum.value % 50 === 0","value":0.28},"value":0.22},"zindex":1}},
      "y2":{"datum":219.8}}},
    {"transform":[{"filter":"datum.s === 'total'"}],"mark":{"type":"area","color":"#22ff22","opacity":1},"encoding":{
      "x":{"field":"t","type":"temporal","axis":{"orient":"bottom","offset":-129.7,"grid":false,"values":[{"year":2010,"month":1,"date":1,"utc":true},{"year":2010,"month":2,"date":1,"utc":true},{"year":2010,"month":3,"date":1,"utc":true},{"year":2010,"month":4,"date":1,"utc":true},{"year":2010,"month":5,"date":1,"utc":true},{"year":2010,"month":6,"date":1,"utc":true},{"year":2010,"month":7,"date":1,"utc":true},{"year":2010,"month":8,"date":1,"utc":true},{"year":2010,"month":9,"date":1,"utc":true},{"year":2010,"month":10,"date":1,"utc":true},{"year":2010,"month":11,"date":1,"utc":true},{"year":2010,"month":12,"date":1,"utc":true},{"year":2011,"month":1,"date":1,"utc":true}],"format":"%b","labelOffset":19,"labelFlush":false,"labelOverlap":false,"labelBound":false,"labelBaseline":"middle","labelPadding":10.5,"tickSize":4,"zindex":1,"title":"Last update: Sun Jan 23 19:50:28 2011","titleX":602.3,"titleY":113.4,"titleAlign":"right","titleBaseline":"middle","titleAngle":0,"titleFontSize":12.6}},
      "y":{"field":"v","type":"quantitative","axis":{"orient":"left","offset":-81.7,"grid":false,"values":[0,50,100,150,200],"tickSize":4,"labelPadding":5,"zindex":1,"title":"proposals","titleX":-63.7,"titleBaseline":"middle","titleAngle":-90}}}},
    {"transform":[{"filter":"datum.s === 'GPL'"}],"mark":{"type":"line","color":"#1e3cff","strokeWidth":2.2}},
    {"transform":[{"filter":"datum.s === 'BSD'"}],"mark":{"type":"line","color":"#ee1111","strokeWidth":2.2}},
    {"transform":[{"filter":"datum.s === 'MIT'"}],"mark":{"type":"line","color":"#00a0a0","strokeWidth":2.2}},
    {"transform":[{"filter":"datum.s === 'NA'"}],"mark":{"type":"line","color":"#ff00ff","strokeWidth":2.2}},
    {"data":{"values":[{}]},"mark":{"type":"point","shape":"triangle-right","filled":true,"size":36,"color":"#a02828","opacity":1},"encoding":{"x":{"datum":{"year":2011,"month":1,"date":28,"utc":true},"type":"temporal","axis":null},"y":{"datum":0,"type":"quantitative","axis":null}}},
    {"data":{"values":[{}]},"mark":{"type":"point","shape":"triangle-up","filled":true,"size":36,"color":"#a02828","opacity":1},"encoding":{"x":{"datum":{"year":2009,"month":12,"date":19,"hours":19,"minutes":50,"utc":true},"type":"temporal","axis":null},"y":{"datum":224.4,"type":"quantitative","axis":null}}}
   ],
   "resolve":{"axis":{"x":"independent","y":"independent"}}
  },
  {
   "layer":[
    {"data":{"values":[{"k":"sw","r":"total"},{"k":"sw","r":"GPL"},{"k":"sw","r":"BSD"},{"k":"sw","r":"MIT"},{"k":"sw","r":"NA"}]},
     "mark":{"type":"point","shape":"square","filled":true,"size":81,"stroke":"#000000","strokeWidth":1,"opacity":1},
     "encoding":{
      "x":{"field":"k","type":"nominal","scale":{"type":"point","domain":["sw"],"range":[21.2,21.2],"padding":0},"axis":null},
      "y":{"field":"r","type":"nominal","scale":{"type":"point","domain":["total","GPL","BSD","MIT","NA"],"range":[300,361],"padding":0},"axis":null},
      "fill":{"field":"r","type":"nominal","scale":{"domain":["total","GPL","BSD","MIT","NA"],"range":["#22ff22","#1e3cff","#ee1111","#00a0a0","#ff00ff"]},"legend":null}
     }},
    {"data":{"name":"t2"},"transform":[{"filter":"datum.c === 'label'"}],
     "mark":{"type":"text","align":"left","baseline":"middle","fontSize":12.6,"font":"DejaVu Sans Mono","color":"#000000"},
     "encoding":{
      "x":{"field":"c","type":"nominal","scale":{"type":"point","domain":["label"],"range":[31.6,31.6],"padding":0},"axis":null},
      "y":{"field":"r","type":"nominal","scale":{"type":"point","domain":["total","GPL","BSD","MIT","NA"],"range":[300,361],"padding":0},"axis":null},
      "text":{"field":"txt"}
     }},
    {"data":{"name":"t2"},"transform":[{"filter":"datum.c !== 'label'"}],
     "mark":{"type":"text","align":"right","baseline":"middle","fontSize":12.6,"font":"DejaVu Sans Mono","color":"#000000"},
     "encoding":{
      "x":{"field":"c","type":"nominal","scale":{"type":"point","domain":["Cur:","Min:","Avg:","Max:"],"range":[254.7,603],"padding":0},"axis":null},
      "y":{"field":"r","type":"nominal","scale":{"type":"point","domain":["total","GPL","BSD","MIT","NA"],"range":[300,361],"padding":0},
        "axis":{"orient":"right","offset":-10.3,"labels":false,"ticks":false,"domain":false,"grid":false,"title":"RRDTOOL / TOBI OETIKER","titleAngle":90,"titleX":0,"titleY":79,"titleAlign":"center","titleBaseline":"middle","titleFontSize":10.4,"titleColor":"#b0b0b0"}},
      "text":{"field":"txt"}
     }},
    {"data":{"name":"t2"},"transform":[{"filter":"datum.c !== 'label'"}],
     "mark":{"type":"text","align":"left","baseline":"middle","fontSize":12.6,"font":"DejaVu Sans Mono","color":"#000000"},
     "encoding":{
      "x":{"field":"c","type":"nominal","scale":{"type":"point","domain":["Cur:","Min:","Avg:","Max:"],"range":[166.6,515],"padding":0},"axis":null},
      "y":{"field":"r","type":"nominal","scale":{"type":"point","domain":["total","GPL","BSD","MIT","NA"],"range":[300,361],"padding":0},"axis":null},
      "text":{"field":"c"}
     }}
   ],
   "resolve":{"scale":{"x":"independent"},"axis":{"x":"independent","y":"independent"}}
  }
 ],
 "resolve":{"scale":{"x":"independent","y":"independent"},"axis":{"x":"independent","y":"independent"}}
},
{
 "width":622,"height":355.4,
 "view":{"fill":"#f0f0f0","stroke":"#c8c8c8","strokeWidth":2},
 "title":{"text":"Participants by gender - by year","offset":-44,"baseline":"alphabetic"},
 "layer":[
  {
   "data":{"name":"p4"},
   "encoding":{
    "x":{"field":"t","type":"temporal","scale":{"type":"utc","domain":[{"year":2009,"month":12,"date":19,"hours":19,"minutes":50,"utc":true},{"year":2011,"month":1,"date":23,"hours":19,"minutes":50,"utc":true}],"range":[82.7,587.3]},"axis":null},
    "y":{"field":"v","type":"quantitative","scale":{"domain":[0,515.6],"range":[263.3,41],"nice":false,"zero":false},"axis":null}
   },
   "layer":[
    {"data":{"values":[{}]},"mark":{"type":"rect","color":"#ffffff"},"encoding":{
      "x":{"datum":{"year":2009,"month":12,"date":19,"hours":19,"minutes":50,"utc":true},"type":"temporal","axis":{"orient":"top","offset":0,"grid":true,"labels":false,"ticks":false,"domain":false,"title":null,"values":[{"year":2010,"month":1,"date":1,"utc":true},{"year":2010,"month":2,"date":1,"utc":true},{"year":2010,"month":3,"date":1,"utc":true},{"year":2010,"month":4,"date":1,"utc":true},{"year":2010,"month":5,"date":1,"utc":true},{"year":2010,"month":6,"date":1,"utc":true},{"year":2010,"month":7,"date":1,"utc":true},{"year":2010,"month":8,"date":1,"utc":true},{"year":2010,"month":9,"date":1,"utc":true},{"year":2010,"month":10,"date":1,"utc":true},{"year":2010,"month":11,"date":1,"utc":true},{"year":2010,"month":12,"date":1,"utc":true},{"year":2011,"month":1,"date":1,"utc":true}],"gridColor":"#ff0000","gridOpacity":0.28,"zindex":1}},
      "x2":{"datum":{"year":2011,"month":1,"date":23,"hours":19,"minutes":50,"utc":true}},
      "y":{"datum":0,"type":"quantitative","axis":{"orient":"left","offset":0,"grid":true,"labels":false,"ticks":false,"domain":false,"title":null,"values":[0,50,100,150,200,250,300,350,400,450,500],"gridColor":{"condition":{"test":"datum.value % 100 === 0","value":"#ff0000"},"value":"#808080"},"gridOpacity":{"condition":{"test":"datum.value % 100 === 0","value":0.28},"value":0.22},"zindex":1}},
      "y2":{"datum":515.6}}},
    {"transform":[{"filter":"datum.s === 'total'"}],"mark":{"type":"area","color":"#22ff22","opacity":1},"encoding":{
      "x":{"field":"t","type":"temporal","axis":{"orient":"bottom","offset":-92.1,"grid":false,"values":[{"year":2010,"month":1,"date":1,"utc":true},{"year":2010,"month":2,"date":1,"utc":true},{"year":2010,"month":3,"date":1,"utc":true},{"year":2010,"month":4,"date":1,"utc":true},{"year":2010,"month":5,"date":1,"utc":true},{"year":2010,"month":6,"date":1,"utc":true},{"year":2010,"month":7,"date":1,"utc":true},{"year":2010,"month":8,"date":1,"utc":true},{"year":2010,"month":9,"date":1,"utc":true},{"year":2010,"month":10,"date":1,"utc":true},{"year":2010,"month":11,"date":1,"utc":true},{"year":2010,"month":12,"date":1,"utc":true},{"year":2011,"month":1,"date":1,"utc":true}],"format":"%b","labelOffset":19,"labelFlush":false,"labelOverlap":false,"labelBound":false,"labelBaseline":"middle","labelPadding":10.5,"tickSize":4,"zindex":1,"title":"Last update: Sun Jan 23 19:50:26 2011","titleX":594,"titleY":81,"titleAlign":"right","titleBaseline":"middle","titleAngle":0,"titleFontSize":12.6}},
      "y":{"field":"v","type":"quantitative","axis":{"orient":"left","offset":-82.7,"grid":false,"values":[0,100,200,300,400,500],"tickSize":4,"labelPadding":5,"zindex":1,"title":"participants","titleX":-63.2,"titleBaseline":"middle","titleAngle":-90}}}},
    {"transform":[{"filter":"datum.s === 'Male'"}],"mark":{"type":"line","color":"#1e3cff","strokeWidth":2.2}},
    {"transform":[{"filter":"datum.s === 'Female'"}],"mark":{"type":"line","color":"#ee1111","strokeWidth":2.2}},
    {"data":{"values":[{}]},"mark":{"type":"point","shape":"triangle-right","filled":true,"size":36,"color":"#a02828","opacity":1},"encoding":{"x":{"datum":{"year":2011,"month":1,"date":28,"utc":true},"type":"temporal","axis":null},"y":{"datum":0,"type":"quantitative","axis":null}}},
    {"data":{"values":[{}]},"mark":{"type":"point","shape":"triangle-up","filled":true,"size":36,"color":"#a02828","opacity":1},"encoding":{"x":{"datum":{"year":2009,"month":12,"date":19,"hours":19,"minutes":50,"utc":true},"type":"temporal","axis":null},"y":{"datum":526,"type":"quantitative","axis":null}}}
   ],
   "resolve":{"axis":{"x":"independent","y":"independent"}}
  },
  {
   "layer":[
    {"data":{"values":[{"k":"sw","r":"total"},{"k":"sw","r":"Male"},{"k":"sw","r":"Female"}]},
     "mark":{"type":"point","shape":"square","filled":true,"size":81,"stroke":"#000000","strokeWidth":1,"opacity":1},
     "encoding":{
      "x":{"field":"k","type":"nominal","scale":{"type":"point","domain":["sw"],"range":[22.8,22.8],"padding":0},"axis":null},
      "y":{"field":"r","type":"nominal","scale":{"type":"point","domain":["total","Male","Female"],"range":[298.7,330],"padding":0},"axis":null},
      "fill":{"field":"r","type":"nominal","scale":{"domain":["total","Male","Female"],"range":["#22ff22","#1e3cff","#ee1111"]},"legend":null}
     }},
    {"data":{"name":"t4"},"transform":[{"filter":"datum.c === 'label'"}],
     "mark":{"type":"text","align":"left","baseline":"middle","fontSize":12.6,"font":"DejaVu Sans Mono","color":"#000000"},
     "encoding":{
      "x":{"field":"c","type":"nominal","scale":{"type":"point","domain":["label"],"range":[32.6,32.6],"padding":0},"axis":null},
      "y":{"field":"r","type":"nominal","scale":{"type":"point","domain":["total","Male","Female"],"range":[298.7,330],"padding":0},"axis":null},
      "text":{"field":"txt"}
     }},
    {"data":{"name":"t4"},"transform":[{"filter":"datum.c !== 'label'"}],
     "mark":{"type":"text","align":"right","baseline":"middle","fontSize":12.6,"font":"DejaVu Sans Mono","color":"#000000"},
     "encoding":{
      "x":{"field":"c","type":"nominal","scale":{"type":"point","domain":["Cur:","Min:","Avg:","Max:"],"range":[208,594.7],"padding":0},"axis":null},
      "y":{"field":"r","type":"nominal","scale":{"type":"point","domain":["total","Male","Female"],"range":[298.7,330],"padding":0},
        "axis":{"orient":"right","offset":-9.7,"labels":false,"ticks":false,"domain":false,"grid":false,"title":"RRDTOOL / TOBI OETIKER","titleAngle":90,"titleX":0,"titleY":79.3,"titleAlign":"center","titleBaseline":"middle","titleFontSize":10.4,"titleColor":"#b0b0b0"}},
      "text":{"field":"txt"}
     }},
    {"data":{"name":"t4"},"transform":[{"filter":"datum.c !== 'label'"}],
     "mark":{"type":"text","align":"left","baseline":"middle","fontSize":12.6,"font":"DejaVu Sans Mono","color":"#000000"},
     "encoding":{
      "x":{"field":"c","type":"nominal","scale":{"type":"point","domain":["Cur:","Min:","Avg:","Max:"],"range":[114,500.6],"padding":0},"axis":null},
      "y":{"field":"r","type":"nominal","scale":{"type":"point","domain":["total","Male","Female"],"range":[298.7,330],"padding":0},"axis":null},
      "text":{"field":"c"}
     }}
   ],
   "resolve":{"scale":{"x":"independent"},"axis":{"x":"independent","y":"independent"}}
  }
 ],
 "resolve":{"scale":{"x":"independent","y":"independent"},"axis":{"x":"independent","y":"independent"}}
}
]}
],
"spacing":14
}
